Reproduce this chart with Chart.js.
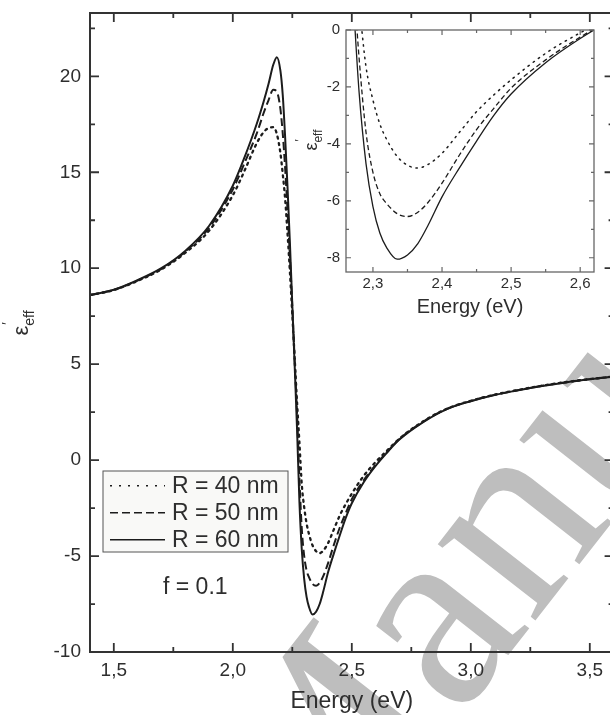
<!DOCTYPE html>
<html>
<head>
<meta charset="utf-8">
<script src="https://cdn.jsdelivr.net/npm/chart.js@4.4.1/dist/chart.umd.min.js"></script>
<style>
  html, body { margin: 0; padding: 0; background: #fff; overflow: hidden; }
  #wrap { position: relative; width: 610px; height: 715px; overflow: hidden; }
  #main { position: absolute; left: 0; top: 0; }
  #inset { position: absolute; left: 290px; top: 0; }
</style>
</head>
<body>
<div id="wrap">
  <canvas id="main" width="620" height="715"></canvas>
  <canvas id="inset" width="320" height="320"></canvas>
</div>
<script>
// photon energy (eV) and real part of eps_eff for three particle radii
const energy = [1.4, 1.5, 1.6, 1.7, 1.8, 1.9, 2.0, 2.05, 2.1, 2.13, 2.15, 2.17, 2.185, 2.2, 2.21, 2.22,
  2.23, 2.24, 2.25, 2.26, 2.27, 2.28, 2.29, 2.3, 2.31, 2.32, 2.335, 2.35, 2.365, 2.38, 2.4, 2.425,
  2.45, 2.475, 2.5, 2.55, 2.6, 2.65, 2.7, 2.8, 2.9, 3.0, 3.1, 3.2, 3.3, 3.4, 3.5, 3.6];
const epsR40 = [8.6, 8.86, 9.34, 9.94, 10.8, 11.95, 13.8, 15.1, 16.5, 17.1, 17.3, 17.35, 17.0, 16.0, 14.9, 13.6,
  11.8, 9.8, 7.6, 5.3, 3.0, 0.9, -1.3, -2.46, -3.3, -3.85, -4.44, -4.75, -4.85, -4.72, -4.33, -3.6,
  -2.87, -2.28, -1.75, -0.82, -0.1, 0.52, 1.12, 2.02, 2.68, 3.09, 3.41, 3.66, 3.88, 4.07, 4.22, 4.36];
const epsR50 = [8.6, 8.87, 9.36, 9.97, 10.86, 12.1, 14.1, 15.5, 17.0, 18.1, 18.75, 19.3, 19.2, 18.3, 17.0, 15.2,
  13.0, 10.6, 8.0, 5.2, 2.4, -1.0, -3.6, -5.0, -5.75, -6.1, -6.45, -6.55, -6.4, -6.05, -5.38, -4.4,
  -3.5, -2.75, -2.04, -1.05, -0.25, 0.45, 1.1, 2.0, 2.67, 3.08, 3.4, 3.65, 3.87, 4.06, 4.22, 4.36];
const epsR60 = [8.6, 8.88, 9.38, 10.0, 10.9, 12.2, 14.3, 15.8, 17.5, 18.7, 19.6, 20.6, 21.0, 20.3, 19.0, 16.8,
  14.2, 11.3, 8.1, 4.9, 1.6, -2.2, -4.7, -6.2, -7.13, -7.65, -8.05, -7.9, -7.5, -6.85, -5.86, -4.85,
  -3.9, -3.0, -2.25, -1.15, -0.3, 0.42, 1.07, 1.98, 2.66, 3.07, 3.39, 3.64, 3.86, 4.05, 4.21, 4.35];
const radii = ['R = 40 nm', 'R = 50 nm', 'R = 60 nm'];
const fillNote = 'f = 0.1';
const xTitle = 'Energy (eV)';

const FONT = "'Liberation Sans', Arial, sans-serif";
const INK = '#2e2e2e';
const LINE = '#1c1c1c';

const series = [epsR40, epsR50, epsR60];
const comma = v => v.toFixed(1).replace('.', ',');
const points = ys => energy.map((e, i) => ({ x: e, y: ys[i] }));

// box around the plot with inward major/minor ticks on all sides
const frame = {
  id: 'frame',
  beforeDraw(chart, args, o) {
    if (!o.bg) return;
    const { ctx, chartArea: a } = chart;
    ctx.save();
    ctx.fillStyle = o.bg;
    ctx.fillRect(a.left, a.top, a.width, a.height);
    ctx.restore();
  },
  afterDatasetsDraw(chart, args, o) {
    const { ctx, chartArea: a, scales } = chart;
    const sx = scales.x, sy = scales.y;
    const steps = (s, st) => {
      const r = [];
      for (let k = Math.ceil(s.min / st - 1e-6); k * st <= s.max + 1e-9; k++) r.push(k * st);
      return r;
    };
    const isMajor = (v, st) => Math.abs(v / st - Math.round(v / st)) < 1e-6;
    ctx.save();
    ctx.strokeStyle = o.color;
    ctx.lineWidth = o.tickWidth;
    ctx.beginPath();
    steps(sx, o.xMinor).forEach(v => {
      const p = sx.getPixelForValue(v);
      const len = isMajor(v, o.xMajor) ? o.major : o.minor;
      ctx.moveTo(p, a.bottom); ctx.lineTo(p, a.bottom - len);
      ctx.moveTo(p, a.top); ctx.lineTo(p, a.top + len);
    });
    steps(sy, o.yMinor).forEach(v => {
      const p = sy.getPixelForValue(v);
      const len = isMajor(v, o.yMajor) ? o.major : o.minor;
      ctx.moveTo(a.left, p); ctx.lineTo(a.left + len, p);
      ctx.moveTo(a.right, p); ctx.lineTo(a.right - len, p);
    });
    ctx.stroke();
    ctx.lineWidth = o.width;
    ctx.strokeRect(a.left, a.top, a.width, a.height);
    ctx.restore();
  }
};

// rotated y title: epsilon with subscript eff and a prime
const epsTitle = {
  id: 'epsTitle',
  afterDraw(chart, args, o) {
    const ctx = chart.ctx;
    ctx.save();
    ctx.translate(o.x, o.y);
    ctx.rotate(-Math.PI / 2);
    ctx.fillStyle = INK;
    ctx.textBaseline = 'alphabetic';
    ctx.font = o.big + 'px ' + FONT;
    const w1 = ctx.measureText('ε').width;
    ctx.font = o.small + 'px ' + FONT;
    const w2 = ctx.measureText('eff').width;
    const x0 = -(w1 + w2) / 2;
    const base = o.big * 0.27;
    ctx.font = o.big + 'px ' + FONT;
    ctx.fillText('ε', x0, base);
    ctx.font = o.small + 'px ' + FONT;
    ctx.fillText('eff', x0 + w1, base + o.small * 0.45);
    ctx.fillText('′', x0 + w1 + 1, base - o.big * 0.72);
    ctx.restore();
  }
};

// framed legend inside the plot, plus the filling-factor note
const boxLegend = {
  id: 'boxLegend',
  afterDraw(chart, args, o) {
    const ctx = chart.ctx;
    ctx.save();
    ctx.fillStyle = '#f9f9f7';
    ctx.strokeStyle = '#555';
    ctx.lineWidth = 1;
    ctx.fillRect(o.left, o.top, o.width, o.height);
    ctx.strokeRect(o.left, o.top, o.width, o.height);
    ctx.font = o.size + 'px ' + FONT;
    ctx.textBaseline = 'middle';
    chart.data.datasets.forEach((ds, i) => {
      const y = o.top + o.first + i * o.gap;
      ctx.setLineDash(o.dashes[i]);
      ctx.lineWidth = 1.4;
      ctx.strokeStyle = ds.borderColor;
      ctx.beginPath();
      ctx.moveTo(o.left + 7, y);
      ctx.lineTo(o.left + 62, y);
      ctx.stroke();
      ctx.setLineDash([]);
      ctx.fillStyle = INK;
      ctx.fillText(ds.label, o.left + 69, y + 1);
    });
    ctx.fillText(fillNote, o.noteX, o.noteY);
    ctx.restore();
  }
};

// faint diagonal watermark behind the plot
const watermark = {
  id: 'watermark',
  beforeDraw(chart, args, o) {
    const ctx = chart.ctx;
    ctx.save();
    ctx.translate(o.x, o.y);
    ctx.rotate(o.angle * Math.PI / 180);
    ctx.fillStyle = '#bebebe';
    ctx.font = o.size + "px 'Liberation Serif', 'Times New Roman', serif";
    ctx.fillText(o.text, 0, 0);
    ctx.restore();
  }
};

const mainStyles = [
  { borderDash: [2, 4.5], borderWidth: 2.3, borderCapStyle: 'round' },
  { borderDash: [8, 4], borderWidth: 2 },
  { borderDash: [], borderWidth: 2 }
];
const insetStyles = [
  { borderDash: [1.4, 5], borderWidth: 1.5, borderCapStyle: 'round' },
  { borderDash: [5, 3], borderWidth: 1.3 },
  { borderDash: [], borderWidth: 1.3 }
];

function datasets(styles) {
  return series.map((ys, i) => Object.assign({
    label: radii[i],
    data: points(ys),
    borderColor: LINE,
    pointRadius: 0,
    fill: false,
    cubicInterpolationMode: 'monotone'
  }, styles[i]));
}

function axisTicks(size, padding, fmt) {
  return { color: INK, font: { family: FONT, size: size }, padding: padding, callback: fmt,
    includeBounds: false, maxRotation: 0, autoSkip: false };
}

const noEdgePad = s => { s.paddingTop = 0; s.paddingBottom = 0; };

new Chart(document.getElementById('main'), {
  type: 'line',
  data: { datasets: datasets(mainStyles) },
  options: {
    responsive: false,
    animation: false,
    events: [],
    layout: { padding: { left: 0, top: 13, right: 6.4, bottom: 0 } },
    plugins: {
      legend: { display: false },
      tooltip: { enabled: false },
      frame: { color: '#333', width: 2, tickWidth: 1.8, major: 9, minor: 5,
        xMajor: 0.5, xMinor: 0.25, yMajor: 5, yMinor: 2.5 },
      epsTitle: { x: 22, y: 323, big: 22, small: 14 },
      boxLegend: { left: 103, top: 471, width: 185, height: 81, first: 14.7, gap: 27, size: 23,
        dashes: [[2, 7], [8, 4], []], noteX: 163, noteY: 588 },
      watermark: { x: 310, y: 909, angle: -52, size: 270, text: 'Manuscript' }
    },
    scales: {
      x: {
        type: 'linear', min: 1.4, max: 3.6,
        grid: { display: false, drawTicks: false },
        border: { display: false },
        ticks: Object.assign(axisTicks(19, 7, v => comma(v)), { stepSize: 0.5 }),
        title: { display: true, text: xTitle, color: INK, font: { family: FONT, size: 23 },
          padding: { top: 0, bottom: 0 } },
        afterFit: s => { s.height = 63; }
      },
      y: {
        type: 'linear', min: -10, max: 23.3,
        grid: { display: false, drawTicks: false },
        border: { display: false },
        ticks: Object.assign(axisTicks(19, 9, v => String(v)), { stepSize: 5 }),
        afterFit: s => { s.width = 90; noEdgePad(s); }
      }
    }
  },
  plugins: [watermark, frame, epsTitle, boxLegend]
});

new Chart(document.getElementById('inset'), {
  type: 'line',
  data: { datasets: datasets(insetStyles) },
  options: {
    responsive: false,
    animation: false,
    events: [],
    layout: { padding: { left: 0, top: 30, right: 16, bottom: 0 } },
    plugins: {
      legend: { display: false },
      tooltip: { enabled: false },
      frame: { bg: '#fff', color: '#666', width: 1.3, tickWidth: 1.2, major: 5, minor: 3,
        xMajor: 0.1, xMinor: 0.05, yMajor: 2, yMinor: 1 },
      epsTitle: { x: 22, y: 140, big: 18, small: 12 }
    },
    scales: {
      x: {
        type: 'linear', min: 2.261, max: 2.62,
        grid: { display: false, drawTicks: false },
        border: { display: false },
        ticks: Object.assign(axisTicks(15, 3, v => comma(v)), { stepSize: 0.1 }),
        title: { display: true, text: xTitle, color: INK, font: { family: FONT, size: 20 },
          padding: { top: 0, bottom: 1 } },
        afterFit: s => { s.height = 48; }
      },
      y: {
        type: 'linear', min: -8.5, max: 0,
        grid: { display: false, drawTicks: false },
        border: { display: false },
        ticks: Object.assign(axisTicks(15, 6, v => String(v)), { stepSize: 2 }),
        afterFit: s => { s.width = 56; noEdgePad(s); }
      }
    }
  },
  plugins: [frame, epsTitle]
});
</script>
</body>
</html>
